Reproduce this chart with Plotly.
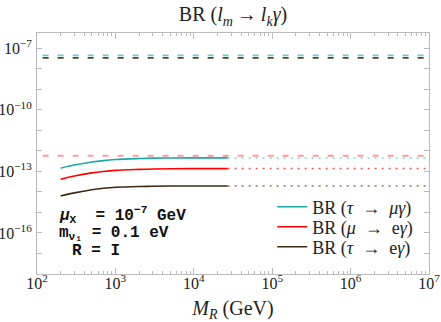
import plotly.graph_objects as go

# M_R (GeV) sampled along the solid curves
m_r = [200, 300, 500, 700, 1000, 2000, 3000, 5000, 10000, 27000]
br_tau_mu = [1.41e-13, 2.00e-13, 2.82e-13, 3.31e-13, 3.72e-13, 4.17e-13, 4.37e-13, 4.42e-13, 4.47e-13, 4.47e-13]
br_mu_e = [4.07e-14, 5.89e-14, 8.32e-14, 9.77e-14, 1.10e-13, 1.23e-13, 1.29e-13, 1.32e-13, 1.35e-13, 1.35e-13]
br_tau_e = [6.31e-15, 8.91e-15, 1.26e-14, 1.48e-14, 1.66e-14, 1.82e-14, 1.86e-14, 1.91e-14, 1.93e-14, 1.93e-14]

# dotted continuation of the plateau
m_r_ext = [27000, 1e7]

# experimental upper bounds (dashed)
m_r_bound = [118, 1e7]
bound_tau_mu = 4.4e-8
bound_tau_e = 3.3e-8
bound_mu_e = 5.7e-13

c_cyan = "#1aa8a8"
c_red = "#ff0000"
c_brown = "#3b2a15"

serif = "Liberation Serif"
sp = "\u00a0"
thin = "\u2009"

fig = go.Figure()

# dashed bounds
for val, col in [(bound_tau_mu, "#6ccccc"), (bound_tau_e, "#5a4128"), (bound_mu_e, "#ff9a9a")]:
    fig.add_trace(go.Scatter(x=m_r_bound, y=[val, val], mode="lines", showlegend=False,
                             line=dict(color=col, width=1.8, dash="6px,9px")))

# dotted extensions
for ys, col in [(br_tau_mu, "#7fd4d4"), (br_mu_e, "#ff5555"), (br_tau_e, "#8a7a60")]:
    fig.add_trace(go.Scatter(x=m_r_ext, y=[ys[-1], ys[-1]], mode="lines", showlegend=False,
                             line=dict(color=col, width=1.5, dash="2px,5px")))

# solid curves, each with its own legend row
arrow = sp + sp + "→" + sp + sp
fig.add_trace(go.Scatter(x=m_r, y=br_tau_mu, mode="lines", line=dict(color=c_cyan, width=1.6, shape="spline"),
                         name="BR" + sp + "(<i>τ</i>" + arrow + "<i>μγ</i>)", legend="legend"))
fig.add_trace(go.Scatter(x=m_r, y=br_mu_e, mode="lines", line=dict(color=c_red, width=1.6, shape="spline"),
                         name="BR" + sp + "(<i>μ</i>" + arrow + "e<i>γ</i>)", legend="legend2"))
fig.add_trace(go.Scatter(x=m_r, y=br_tau_e, mode="lines", line=dict(color=c_brown, width=1.6, shape="spline"),
                         name="BR" + sp + "(<i>τ</i>" + arrow + "e<i>γ</i>)", legend="legend3"))

x_major = [10 ** k for k in range(2, 8)]
x_minor = [d * 10 ** k for k in range(2, 7) for d in range(2, 10)]
y_major = [10.0 ** k for k in range(-18, -6)]
y_text = ["10<sup>−%d</sup>" % (-k) if k in (-7, -10, -13, -16) else "" for k in range(-18, -6)]

axis_common = dict(showgrid=False, zeroline=False, showline=True, linecolor="#bbbbbb", linewidth=1,
                   mirror="allticks", ticks="inside", tickcolor="#bbbbbb", automargin=False,
                   tickfont=dict(family=serif, size=16, color="#222"))

fig.update_xaxes(type="log", range=[2, 7], tickvals=x_major,
                 ticktext=["10<sup>%d</sup>" % k for k in range(2, 8)], ticklen=6, ticklabelstandoff=-5,
                 minor=dict(tickvals=x_minor, ticks="inside", ticklen=3, tickcolor="#bbbbbb"),
                 title=dict(text="<i>M</i><sub><i>R</i></sub> (GeV)", font=dict(family=serif, size=20, color="#222"),
                            standoff=10),
                 **axis_common)
fig.update_yaxes(type="log", range=[-18.0, -6.27], tickvals=y_major, ticktext=y_text, ticklen=5,
                 ticklabelstandoff=1, **axis_common)

mono = dict(family="Liberation Mono", size=16, color="#111")
notes = [("<b><i>μ</i><sub>X</sub>" + sp + sp + "= 10<sup>−7</sup> GeV</b>", 0.051, 0.245),
         ("<b>m<sub>ν₁</sub> = 0.1 eV</b>", 0.051, 0.170),
         ("<b>R = I</b>", 0.085, 0.097)]
for txt, xp, yp in notes:
    fig.add_annotation(text=txt, x=xp, y=yp, xref="paper", yref="paper", xanchor="left", yanchor="middle",
                       showarrow=False, font=mono)

leg = dict(x=0.60, xanchor="left", yanchor="middle", bgcolor="rgba(0,0,0,0)",
           font=dict(family=serif, size=18, color="#222"), itemwidth=30)

fig.update_layout(
    width=441, height=322,
    margin=dict(l=37, r=12, t=33, b=48),
    paper_bgcolor="white", plot_bgcolor="white",
    title=dict(text="BR" + sp + "(<i>l</i><sub><i>m</i></sub>" + thin + "→" + thin + "<i>l</i><sub><i>k</i></sub><i>γ</i>)",
               x=0.5, xref="paper", xanchor="center",
               y=0.955, yanchor="middle", font=dict(family=serif, size=20, color="#222")),
    legend=dict(y=0.278, **leg),
    legend2=dict(y=0.195, **leg),
    legend3=dict(y=0.112, **leg),
)

# drop the default 8px page margin so the figure sits at the window corner
fig.write_html("out.html", config={"displayModeBar": False},
               post_script="document.body.style.margin = '0';")
